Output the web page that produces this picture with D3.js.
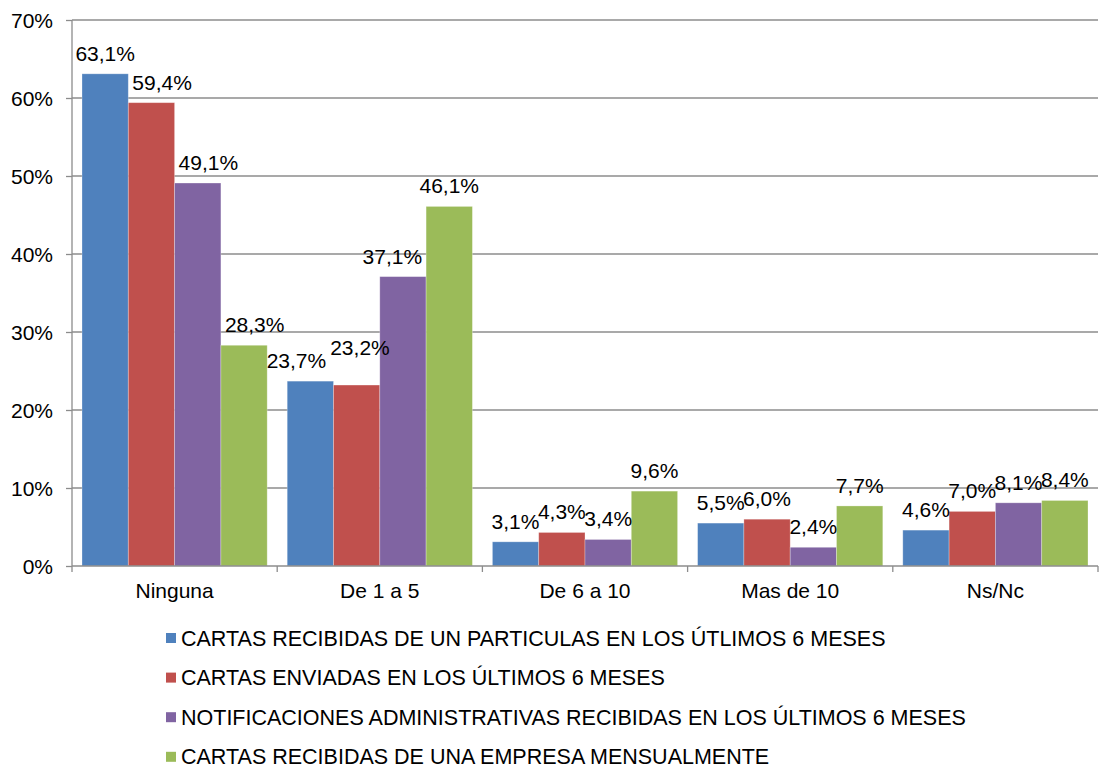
<!DOCTYPE html>
<html>
<head>
<meta charset="utf-8">
<script src="https://cdn.jsdelivr.net/npm/d3@7"></script>
<style>
  body { margin: 0; background: #fff; }
  text { font-family: "Liberation Sans", Arial, sans-serif; fill: #000; }
</style>
</head>
<body>
<div id="vis"></div>
<script>
const categories = ["Ninguna", "De 1 a 5", "De 6 a 10", "Mas de 10", "Ns/Nc"];
const seriesNames = [
    "CARTAS RECIBIDAS DE UN PARTICULAS EN LOS ÚTLIMOS 6 MESES",
    "CARTAS ENVIADAS EN LOS ÚLTIMOS 6 MESES",
    "NOTIFICACIONES ADMINISTRATIVAS RECIBIDAS EN LOS ÚLTIMOS 6 MESES",
    "CARTAS RECIBIDAS DE UNA EMPRESA MENSUALMENTE"
];
const recibidasParticular = [63.1, 23.7, 3.1, 5.5, 4.6];
const enviadas = [59.4, 23.2, 4.3, 6.0, 7.0];
const notificaciones = [49.1, 37.1, 3.4, 2.4, 8.1];
const recibidasEmpresa = [28.3, 46.1, 9.6, 7.7, 8.4];
const yTicks = [0, 10, 20, 30, 40, 50, 60, 70];
const colors = ["#4F81BD", "#C0504D", "#8064A2", "#9BBB59"];

const series = [recibidasParticular, enviadas, notificaciones, recibidasEmpresa];

const W = 1104, H = 767;
const mLeft = 72, mRight = 1098, mTop = 20, mBottom = 566;
const fs = 21;

const svg = d3.select("#vis").append("svg")
    .attr("width", W)
    .attr("height", H);

const x = d3.scaleBand()
    .domain(categories)
    .range([mLeft, mRight])
    .paddingInner(0.0975)
    .paddingOuter(0.04875);

const xs = d3.scaleBand()
    .domain(d3.range(series.length))
    .range([0, x.bandwidth()]);

const y = d3.scaleLinear()
    .domain([0, 70])
    .range([mBottom, mTop]);

// gridlines
svg.append("g")
    .selectAll("line")
    .data(yTicks.filter(d => d > 0))
    .join("line")
    .attr("x1", mLeft)
    .attr("x2", mRight)
    .attr("y1", d => y(d))
    .attr("y2", d => y(d))
    .attr("stroke", "#8c8c8c")
    .attr("stroke-width", 1.3);

const fmt = v => v.toFixed(1).replace(".", ",") + "%";

// bars
series.forEach((vals, si) => {
    svg.append("g")
        .selectAll("rect")
        .data(vals)
        .join("rect")
        .attr("x", (d, i) => x(categories[i]) + xs(si))
        .attr("y", d => y(d))
        .attr("width", xs.bandwidth())
        .attr("height", d => mBottom - y(d))
        .attr("fill", colors[si])
        .attr("stroke", "#ffffff")
        .attr("stroke-opacity", 0.35)
        .attr("stroke-width", 0.8);
});

// data labels: centred above bars, moved off neighbouring bars / labels like excel does
const labelG = svg.append("g");
categories.forEach((cat, ci) => {
    let prev = null;
    series.forEach((vals, si) => {
        let cx = x(cat) + xs(si) + xs.bandwidth() / 2;
        let by = y(vals[ci]) - 13;
        const t = labelG.append("text")
            .attr("text-anchor", "middle")
            .attr("font-size", fs)
            .text(fmt(vals[ci]));
        const w = t.node().getComputedTextLength();

        // left neighbour bar taller than label bottom
        if (si > 0) {
            const nbRight = x(cat) + xs(si - 1) + xs.bandwidth();
            const nbTop = y(series[si - 1][ci]);
            if (nbTop < by + 3 && nbRight - (cx - w / 2) > 3) cx = nbRight + 4 + w / 2;
        }
        // right neighbour bar
        if (si < series.length - 1) {
            const nbLeft = x(cat) + xs(si + 1);
            const nbTop = y(series[si + 1][ci]);
            if (nbTop < by + 3 && (cx + w / 2) - nbLeft > 3) cx = nbLeft - 4 - w / 2;
        }
        // previous label: push apart sideways and lift this one
        if (prev) {
            const hOverlap = (prev.cx + prev.w / 2) - (cx - w / 2);
            if (hOverlap > 3 && Math.abs(prev.by - by) < 16) {
                const shift = (hOverlap + 4) / 2;
                prev.cx -= shift;
                prev.t.attr("x", prev.cx);
                cx += shift;
                by = prev.by - 13;
            }
        }
        t.attr("x", cx).attr("y", by);
        prev = { cx, w, by, t };
    });
});

// y axis
const yAxis = svg.append("g")
    .attr("transform", `translate(${mLeft},0)`)
    .call(d3.axisLeft(y).tickValues(yTicks).tickSize(6).tickFormat(d => d + "%"));
yAxis.select(".domain").attr("stroke", "#8c8c8c").attr("stroke-width", 1.3).attr("d", `M0,${mTop}V${mBottom}`);
yAxis.selectAll(".tick line").attr("stroke", "#8c8c8c").attr("stroke-width", 1.3);
yAxis.selectAll(".tick text")
    .attr("font-size", fs)
    .attr("font-family", "Liberation Sans, Arial, sans-serif")
    .attr("fill", "#000")
    .attr("x", -19)
    .attr("dy", "0.35em");

// x axis
const xAxis = svg.append("g")
    .attr("transform", `translate(0,${mBottom})`);
xAxis.append("line")
    .attr("x1", mLeft).attr("x2", mRight)
    .attr("stroke", "#8c8c8c").attr("stroke-width", 1.3);
const step = (mRight - mLeft) / categories.length;
xAxis.selectAll(".sep")
    .data(d3.range(categories.length + 1))
    .join("line")
    .attr("x1", d => mLeft + d * step)
    .attr("x2", d => mLeft + d * step)
    .attr("y1", 0).attr("y2", 6)
    .attr("stroke", "#8c8c8c").attr("stroke-width", 1.3);
xAxis.selectAll(".cat")
    .data(categories)
    .join("text")
    .attr("x", d => x(d) + x.bandwidth() / 2)
    .attr("y", 32)
    .attr("text-anchor", "middle")
    .attr("font-size", fs)
    .text(d => d);

// legend
const legend = svg.append("g")
    .attr("transform", "translate(166,638)");
const rows = legend.selectAll("g")
    .data(seriesNames)
    .join("g")
    .attr("transform", (d, i) => `translate(0,${i * 39.6})`);
rows.append("rect")
    .attr("x", 0).attr("y", -5)
    .attr("width", 10).attr("height", 10)
    .attr("fill", (d, i) => colors[i]);
rows.append("text")
    .attr("x", 15)
    .attr("y", 0)
    .attr("dy", "0.35em")
    .attr("font-size", 21.5)
    .text(d => d);
</script>
</body>
</html>
